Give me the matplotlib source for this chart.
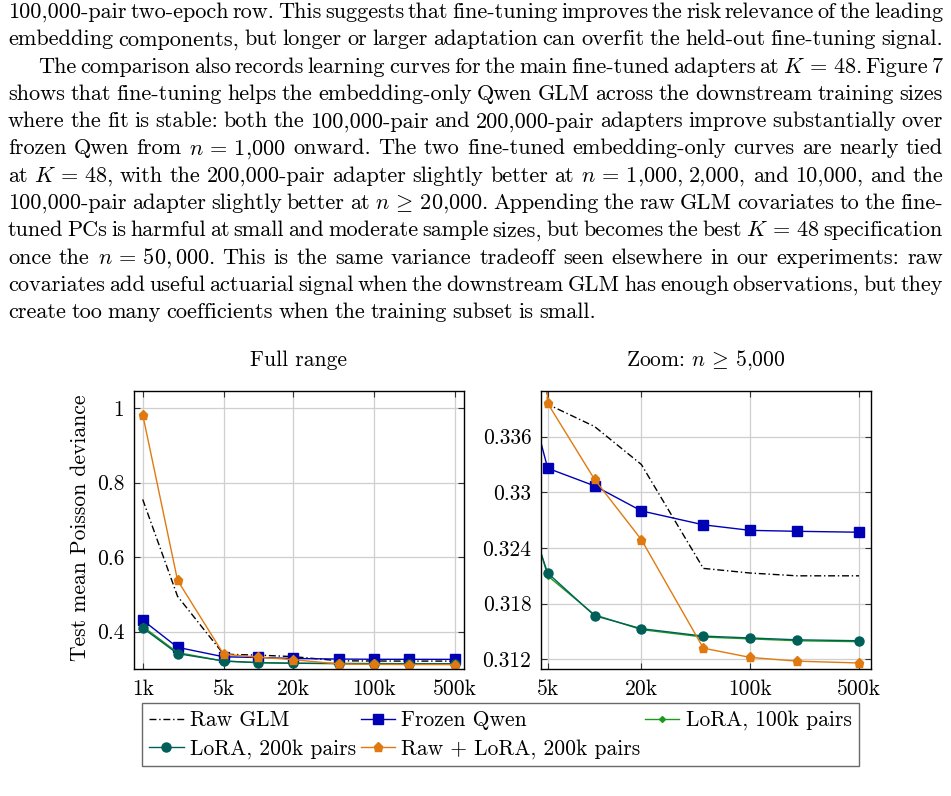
import re
import matplotlib
matplotlib.use("Agg")
import matplotlib.pyplot as plt
from matplotlib.ticker import FixedLocator, FixedFormatter, NullLocator

plt.rcParams['font.family'] = 'serif'
plt.rcParams['font.serif'] = ['cmr10', 'DejaVu Serif']
plt.rcParams['mathtext.fontset'] = 'cm'
plt.rcParams['axes.unicode_minus'] = False
plt.rcParams['axes.formatter.use_mathtext'] = True

# data
n_train = [1000, 2000, 5000, 10000, 20000, 50000, 100000, 200000, 500000]
raw_glm = [0.755, 0.495, 0.3395, 0.3371, 0.3330, 0.3218, 0.3213, 0.3210, 0.3210]
frozen_qwen = [0.431, 0.358, 0.3326, 0.3307, 0.3280, 0.3265, 0.3259, 0.3258, 0.3257]
lora_100k = [0.414, 0.344, 0.3210, 0.3168, 0.3152, 0.3144, 0.3142, 0.3140, 0.3139]
lora_200k = [0.410, 0.341, 0.3213, 0.3167, 0.3153, 0.3145, 0.3143, 0.3141, 0.3140]
raw_lora_200k = [0.983, 0.538, 0.3396, 0.3314, 0.3249, 0.3132, 0.3122, 0.3118, 0.3116]

full_xticks = [1000, 5000, 20000, 100000, 500000]
full_xlabels = ['1k', '5k', '20k', '100k', '500k']
full_yticks = [0.4, 0.6, 0.8, 1.0]
full_ylabels = ['0.4', '0.6', '0.8', '1']
zoom_xticks = [5000, 20000, 100000, 500000]
zoom_xlabels = ['5k', '20k', '100k', '500k']
zoom_yticks = [0.312, 0.318, 0.324, 0.330, 0.336]
zoom_ylabels = ['0.312', '0.318', '0.324', '0.33', '0.336']

body_lines = [
    "100,000-pair two-epoch row. This suggests that fine-tuning improves the risk relevance of the leading",
    "embedding components, but longer or larger adaptation can overfit the held-out fine-tuning signal.",
    "The comparison also records learning curves for the main fine-tuned adapters at $K\\,=\\,48$. Figure 7",
    "shows that fine-tuning helps the embedding-only Qwen GLM across the downstream training sizes",
    "where the fit is stable: both the 100,000-pair and 200,000-pair adapters improve substantially over",
    "frozen Qwen from $n\\,=\\,1{,}000$ onward. The two fine-tuned embedding-only curves are nearly tied",
    "at $K\\,=\\,48$, with the 200,000-pair adapter slightly better at $n\\,=\\,1{,}000$, 2,000, and 10,000, and the",
    "100,000-pair adapter slightly better at $n\\,\\geq\\,20{,}000$. Appending the raw GLM covariates to the fine-",
    "tuned PCs is harmful at small and moderate sample sizes, but becomes the best $K\\,=\\,48$ specification",
    "once the $n\\,=\\,50,000$. This is the same variance tradeoff seen elsewhere in our experiments: raw",
    "covariates add useful actuarial signal when the downstream GLM has enough observations, but they",
    "create too many coefficients when the training subset is small.",
]

W, H = 951, 796
fig = plt.figure(figsize=(W / 100, H / 100), dpi=100)
renderer = fig.canvas.get_renderer()

# justified paragraph text
x_left, x_right = 8, 943
for i, line in enumerate(body_lines):
    y = 1 - (18 + 27.3 * i) / H
    start = 38 if i == 2 else x_left
    words = re.findall(r'\$[^$]*\$\S*|\S+', line)
    texts = [fig.text(0, y, w, fontsize=16, va='baseline', ha='left') for w in words]
    widths = [t.get_window_extent(renderer).width for t in texts]
    if i == len(body_lines) - 1:
        gap = 5.5
    else:
        gap = (x_right - start - sum(widths)) / (len(words) - 1)
    x = start
    for t, w in zip(texts, widths):
        t.set_x(x / W)
        x += w + gap

colors = {
    'raw': 'black',
    'frozen': '#0000b4',
    'l100': '#1a9a1a',
    'l200': '#005f58',
    'rawl': '#e07a10',
}


def draw(ax):
    ax.plot(n_train, raw_glm, color=colors['raw'], lw=1.0,
            linestyle=(0, (5, 2, 1, 2)), label='Raw GLM')
    ax.plot(n_train, frozen_qwen, color=colors['frozen'], lw=1.0,
            marker='s', ms=6.5, label='Frozen Qwen')
    ax.plot(n_train, lora_100k, color=colors['l100'], lw=1.0,
            marker='D', ms=3, label='LoRA, 100k pairs')
    ax.plot(n_train, lora_200k, color=colors['l200'], lw=1.0,
            marker='o', ms=6.5, label='LoRA, 200k pairs')
    ax.plot(n_train, raw_lora_200k, color=colors['rawl'], lw=1.0,
            marker='p', ms=6.5, label='Raw + LoRA, 200k pairs')
    ax.set_xscale('log')
    ax.grid(True, color='#cfcfcf', lw=0.9)
    ax.set_axisbelow(True)
    ax.tick_params(direction='in', top=True, right=True, length=4,
                   labelsize=15.5, pad=7, color='#333333')
    ax.xaxis.set_minor_locator(NullLocator())
    for s in ax.spines.values():
        s.set_linewidth(1.0)


ax1 = fig.add_axes([134 / W, 1 - 669.3 / H, 330 / W, 278.6 / H])
draw(ax1)
ax1.set_xlim(841, 598000)
ax1.set_ylim(0.299, 1.047)
ax1.xaxis.set_major_locator(FixedLocator(full_xticks))
ax1.xaxis.set_major_formatter(FixedFormatter(full_xlabels))
ax1.yaxis.set_major_locator(FixedLocator(full_yticks))
ax1.yaxis.set_major_formatter(FixedFormatter(full_ylabels))

ax2 = fig.add_axes([541 / W, 1 - 669.3 / H, 330 / W, 278.6 / H])
draw(ax2)
ax2.set_xlim(4530, 597000)
ax2.set_ylim(0.31092, 0.34096)
ax2.xaxis.set_major_locator(FixedLocator(zoom_xticks))
ax2.xaxis.set_major_formatter(FixedFormatter(zoom_xlabels))
ax2.yaxis.set_major_locator(FixedLocator(zoom_yticks))
ax2.yaxis.set_major_formatter(FixedFormatter(zoom_ylabels))

fig.text(299 / W, 1 - 360 / H, 'Full range', fontsize=15.5, ha='center', va='center')
fig.text(706 / W, 1 - 360 / H, 'Zoom: $n\\,\\geq\\,5{,}000$', fontsize=15.5, ha='center', va='center')
fig.text(80 / W, 1 - 528 / H, 'Test mean Poisson deviance', fontsize=15.5,
         rotation=90, ha='center', va='center')

# legend, filled row by row
h, l = ax1.get_legend_handles_labels()
order = [0, 3, 1, 4, 2]
leg = fig.legend([h[k] for k in order], [l[k] for k in order], ncol=3,
                 loc='upper center', bbox_to_anchor=(500.5 / W, 1 - 703 / H),
                 fontsize=15.5, frameon=True, fancybox=False, edgecolor='#444444',
                 handlelength=1.6, handletextpad=0.3, columnspacing=0.2,
                 borderpad=0.35, labelspacing=0.4, borderaxespad=0)
leg.get_frame().set_linewidth(1.0)

fig.savefig('out.png', dpi=100)
